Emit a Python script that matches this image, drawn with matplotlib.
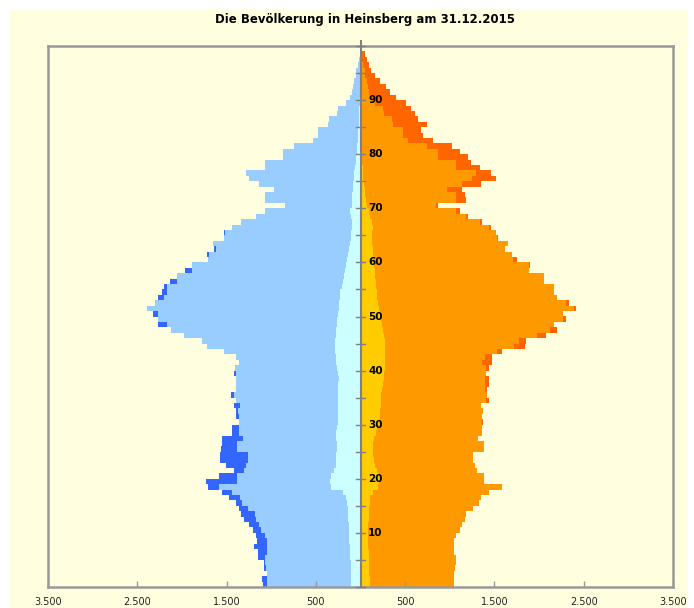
import numpy as np
import matplotlib.pyplot as plt
from matplotlib.patches import Rectangle

# Bevölkerungspyramide Heinsberg 31.12.2015 - Werte aus dem Bild geschätzt
alter = np.arange(100)

# Männer gesamt (0 ... 99 Jahre)
maenner = [1095, 1102, 1050, 1076, 1083, 1150, 1150, 1195, 1158, 1176,
           1202, 1250, 1306, 1336, 1362, 1399, 1473, 1548, 1708, 1733,
           1585, 1418, 1510, 1577, 1577, 1566, 1548, 1548, 1443, 1443,
           1362, 1390, 1390, 1418, 1400, 1455, 1399, 1399, 1399, 1418,
           1407, 1362, 1399, 1529, 1722, 1770, 1982, 2123, 2273, 2273,
           2328, 2395, 2298, 2265, 2224, 2198, 2131, 2050, 1964, 1882,
           1708, 1715, 1645, 1648, 1529, 1529, 1443, 1343, 1176, 1070,
           850, 1065, 1065, 972, 1139, 1250, 1288, 1065, 1065, 867,
           867, 741, 530, 480, 477, 360, 350, 265, 250, 160,
           120, 100, 85, 70, 55, 45, 30, 20, 10, 5]

# Frauen gesamt
frauen = [1042, 1042, 1042, 1053, 1072, 1072, 1042, 1042, 1042, 1072,
          1109, 1139, 1165, 1184, 1258, 1332, 1351, 1444, 1585, 1388,
          1388, 1300, 1280, 1258, 1258, 1380, 1380, 1313, 1360, 1360,
          1370, 1360, 1369, 1351, 1436, 1420, 1420, 1440, 1440, 1400,
          1436, 1470, 1477, 1590, 1845, 1850, 2083, 2200, 2170, 2300,
          2270, 2410, 2340, 2205, 2168, 2168, 2060, 2057, 1882, 1900,
          1752, 1693, 1620, 1648, 1536, 1518, 1462, 1362, 1202, 1109,
          870, 1183, 1165, 1135, 1350, 1518, 1462, 1343, 1239, 1202,
          1110, 1020, 812, 700, 680, 745, 644, 610, 570, 515,
          401, 329, 284, 217, 162, 113, 98, 76, 50, 20]

# Ausländer männlich
maenner_ausl = [110, 110, 110, 110, 110, 115, 115, 120, 125, 125,
                130, 130, 135, 140, 145, 150, 160, 200, 330, 340,
                330, 300, 280, 280, 270, 265, 265, 280, 270, 265,
                255, 250, 250, 250, 250, 255, 255, 250, 245, 250,
                265, 270, 280, 285, 285, 284, 280, 270, 265, 260,
                250, 245, 240, 230, 225, 210, 195, 180, 170, 160,
                150, 140, 130, 120, 110, 105, 100, 100, 110, 115,
                100, 100, 95, 85, 80, 75, 70, 60, 50, 45,
                40, 35, 30, 25, 25, 20, 18, 15, 12, 10,
                8, 5, 4, 3, 3, 2, 2, 1, 1, 1]

# Ausländer weiblich
frauen_ausl = [105, 105, 100, 95, 95, 90, 90, 88, 86, 85,
               85, 88, 90, 95, 100, 105, 110, 140, 200, 210,
               210, 180, 165, 150, 145, 140, 140, 150, 170, 190,
               210, 215, 220, 225, 230, 235, 245, 255, 260, 265,
               270, 272, 273, 275, 275, 273, 265, 250, 240, 225,
               217, 210, 200, 190, 180, 175, 170, 165, 160, 150,
               143, 140, 135, 130, 125, 130, 140, 130, 110, 90,
               69, 65, 55, 45, 38, 31, 28, 25, 22, 20,
               18, 15, 12, 10, 9, 8, 7, 6, 5, 4,
               3, 2, 2, 2, 2, 1, 1, 1, 1, 1]

m = np.array(maenner)
f = np.array(frauen)
ma = np.array(maenner_ausl)
fa = np.array(frauen_ausl)
basis = np.minimum(m, f)

creme = '#FFFFE0'
grau = '#999999'

fig = plt.figure(figsize=(6.94, 6.08), dpi=100, facecolor='white')
fig.patches.append(Rectangle((10 / 694, 0), 678 / 694, 598 / 608,
                             transform=fig.transFigure, facecolor=creme,
                             edgecolor='none', zorder=-1))
ax = fig.add_axes([48 / 694, 21 / 608, 625 / 694, 541 / 608])
ax.set_facecolor(creme)

kw = dict(height=1, align='edge', linewidth=0, antialiased=False)
# Männer links
ax.barh(alter, -ma, color='#CCFFFF', **kw)
ax.barh(alter, -(basis - ma), left=-ma, color='#99CCFF', **kw)
ax.barh(alter, -(m - basis), left=-basis, color='#3366FF', **kw)
# Frauen rechts
ax.barh(alter, fa, color='#FFCC00', **kw)
ax.barh(alter, basis - fa, left=fa, color='#FF9900', **kw)
ax.barh(alter, f - basis, left=basis, color='#FF6600', **kw)

ax.set_xlim(-3500, 3500)
ax.set_ylim(0, 100)

xt = np.arange(-3500, 3501, 1000)
ax.set_xticks(xt)
ax.set_xticklabels([f"{abs(v):,}".replace(',', '.') for v in xt])
ax.tick_params(axis='x', direction='in', length=4, color=grau, width=1,
               labelsize=7, pad=7, labelcolor='#222222')
ax.set_yticks([])
for s in ax.spines.values():
    s.set_color(grau)
    s.set_linewidth(1.8)

# Mittellinie mit Altersstrichen
ax.plot([0, 0], [0, 101], color='#808080', lw=1.5, clip_on=False, zorder=5)
for a in range(0, 101, 5):
    ax.plot([-45, 45], [a, a], color='#808080', lw=1, clip_on=False, zorder=5)
for a in range(10, 100, 10):
    ax.text(85, a, str(a), fontsize=7.5, fontweight='bold',
            ha='left', va='center', zorder=6)

fig.text(365 / 694, 1 - 19 / 608, 'Die Bevölkerung in Heinsberg am 31.12.2015',
         ha='center', va='center', fontsize=8.5, fontweight='bold')

fig.savefig('out.png', dpi=100, facecolor=fig.get_facecolor())
